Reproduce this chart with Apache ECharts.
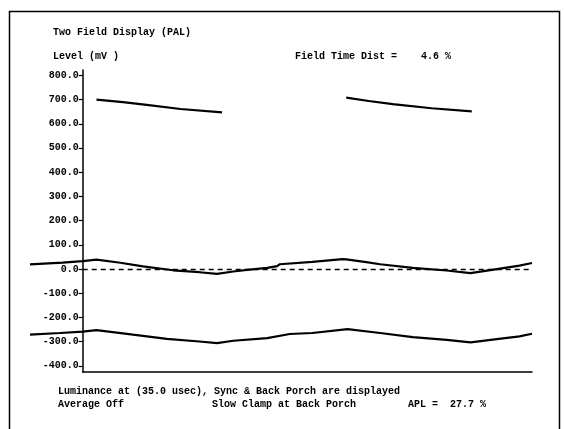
<!DOCTYPE html>
<html>
<head>
<meta charset="utf-8">
<script src="https://cdn.jsdelivr.net/npm/echarts@6/dist/echarts.min.js"></script>
<style>
  html, body { margin: 0; padding: 0; background: #fff; }
  #chart { width: 565px; height: 429px; }
</style>
</head>
<body>
<div id="chart"></div>
<script>
// Two field PAL display: time axis in ms across two fields (0..40 ms)
const yTicks = [-400, -300, -200, -100, 0, 100, 200, 300, 400, 500, 600, 700, 800];

// Luminance level at 35.0 usec, field 1 and field 2 (mV)
const lumTime1 = [5.3, 7.4, 9.3, 12.0, 15.3];
const lumLevel1 = [700, 689, 678, 661, 647];
const lumTime2 = [25.2, 27.0, 28.9, 32.0, 35.2];
const lumLevel2 = [708, 694, 681, 664, 651];

// Back porch level (mV)
const porchTime = [0.0, 2.6, 4.2, 5.3, 7.2, 9.0, 11.4, 13.5, 14.9, 16.2, 17.3, 18.9, 19.7, 19.9, 22.5, 24.9, 25.2, 26.8, 27.9, 30.5, 33.2, 35.1, 37.2, 39.0, 40.0];
const porchLevel = [19, 27, 33, 39, 26, 11, -5, -13, -20, -10, -3, 5, 12, 20, 30, 41, 40, 29, 20, 5, -6, -17, 0, 14, 25];

// Sync tip level (mV)
const syncTime = [0.0, 2.4, 4.2, 5.3, 8.2, 10.9, 13.5, 14.9, 16.2, 18.9, 20.7, 22.5, 25.3, 27.9, 30.5, 33.2, 35.1, 37.2, 39.0, 40.0];
const syncLevel = [-271, -264, -258, -252, -271, -288, -299, -306, -296, -285, -268, -264, -248, -264, -281, -292, -303, -289, -278, -267];

const pairs = (xs, ys) => xs.map((x, i) => [x, ys[i]]);

const font = '"Liberation Mono", "DejaVu Sans Mono", monospace';
const traceStart = 0, traceEnd = 40, axisStart = 4.2;
const plotLeft = 30, plotRight = 532, plotTop = 70, plotBottom = 372;
const pxPerMs = (plotRight - plotLeft) / (traceEnd - traceStart);
const axisLeft = plotLeft + (axisStart - traceStart) * pxPerMs;
const yMin = -425, yMax = 822;

const chart = echarts.init(document.getElementById('chart'), null, { renderer: 'canvas' });

const txt = (left, top, text) => ({
  type: 'text', left: left, top: top,
  style: { text: text, font: 'bold 10px ' + font, fill: '#000' }
});

chart.setOption({
  animation: false,
  backgroundColor: '#fff',
  grid: [
    { left: axisLeft, right: 565 - plotRight, top: plotTop, bottom: 429 - plotBottom },
    { left: plotLeft, right: 565 - plotRight, top: plotTop, bottom: 429 - plotBottom }
  ],
  xAxis: [
    { gridIndex: 0, type: 'value', min: axisStart, max: traceEnd,
      axisLine: { onZero: false, lineStyle: { color: '#000', width: 1.5 } },
      axisTick: { show: false }, axisLabel: { show: false }, splitLine: { show: false } },
    { gridIndex: 1, type: 'value', min: traceStart, max: traceEnd, show: false }
  ],
  yAxis: [
    { gridIndex: 0, type: 'value', min: yMin, max: yMax,
      axisLine: { show: true, lineStyle: { color: '#000', width: 1.5 } },
      axisTick: { show: true, length: 4, inside: false, lineStyle: { color: '#000', width: 1.2 },
        customValues: yTicks },
      axisLabel: { show: true, margin: 4, customValues: yTicks,
        formatter: v => v.toFixed(1),
        fontFamily: font, fontWeight: 'bold', fontSize: 10, color: '#000' },
      splitLine: { show: false } },
    { gridIndex: 1, type: 'value', min: yMin, max: yMax, show: false }
  ],
  graphic: [
    { type: 'rect', left: 7, top: 9, shape: { width: 550, height: 440 },
      style: { fill: 'none', stroke: '#000', lineWidth: 1.5 } },
    txt(53, 27, 'Two Field Display (PAL)'),
    txt(53, 51, 'Level (mV )'),
    txt(295, 51, 'Field Time Dist =    4.6 %'),
    txt(58, 386, 'Luminance at (35.0 usec), Sync & Back Porch are displayed'),
    txt(58, 399, 'Average Off'),
    txt(212, 399, 'Slow Clamp at Back Porch'),
    txt(408, 399, 'APL =  27.7 %')
  ],
  series: [
    { type: 'line', xAxisIndex: 0, yAxisIndex: 0, data: [], silent: true,
      markLine: { silent: true, symbol: 'none', label: { show: false },
        lineStyle: { color: '#000', type: [5, 4], width: 1.3 },
        data: [{ yAxis: 0 }] } },
    { type: 'line', xAxisIndex: 1, yAxisIndex: 1, data: pairs(lumTime1, lumLevel1),
      showSymbol: false, lineStyle: { color: '#000', width: 2.2 } },
    { type: 'line', xAxisIndex: 1, yAxisIndex: 1, data: pairs(lumTime2, lumLevel2),
      showSymbol: false, lineStyle: { color: '#000', width: 2.2 } },
    { type: 'line', xAxisIndex: 1, yAxisIndex: 1, data: pairs(porchTime, porchLevel),
      showSymbol: false, lineStyle: { color: '#000', width: 2.2 } },
    { type: 'line', xAxisIndex: 1, yAxisIndex: 1, data: pairs(syncTime, syncLevel),
      showSymbol: false, lineStyle: { color: '#000', width: 2.2 } }
  ]
});
</script>
</body>
</html>
